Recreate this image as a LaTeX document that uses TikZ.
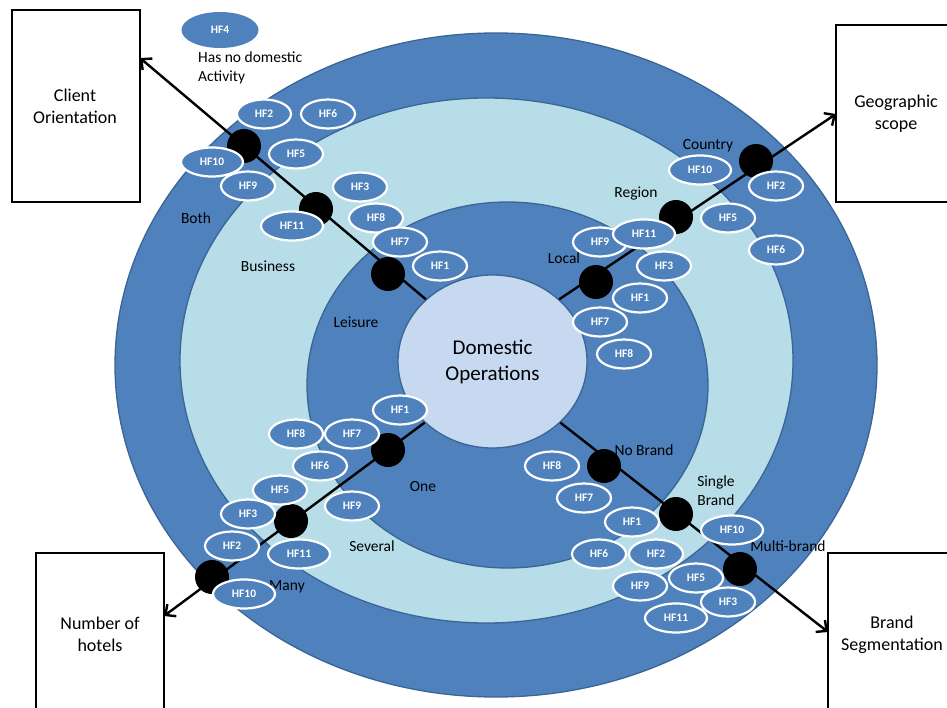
\documentclass[tikz,border=0pt]{standalone}
\usepackage{fontspec}
\setmainfont{Carlito}
\usetikzlibrary{shapes.geometric,arrows.meta}
\definecolor{ringblue}{HTML}{4F81BD}
\definecolor{ringaqua}{HTML}{B7DDE8}
\definecolor{corefill}{HTML}{C6D9F1}
\definecolor{ringedge}{HTML}{3A6595}

\begin{document}
\begin{tikzpicture}[x=1pt,y=-1pt,
  ring/.style={draw=ringedge, line width=1.3pt},
  hf/.style={ellipse, fill=ringblue, draw=white, line width=2.2pt,
    minimum width=54pt, minimum height=29pt, inner sep=0pt, text=white,
    font=\fontsize{11.5}{12}\selectfont\bfseries},
  hfw/.style={hf, minimum width=62pt},
  level/.style={circle, fill=black, minimum size=34pt, inner sep=0pt},
  tag/.style={font=\fontsize{15.5}{19}\selectfont, inner sep=0pt, align=center},
  dimbox/.style={rectangle, draw=black, line width=2.2pt, fill=white, inner sep=0pt},
  boxtext/.style={font=\fontsize{18}{22}\selectfont, align=center, inner sep=0pt},
  axis/.style={draw=black, line width=2.4pt, -{Straight Barb[length=8pt,width=15pt]}}
]
\clip (0,0) rectangle (947,708);
\fill[white] (0,0) rectangle (947,708);

% concentric bands
\filldraw[ring, fill=ringblue] (496,365) ellipse [x radius=381, y radius=332];
\filldraw[ring, fill=ringaqua] (486.5,360.5) ellipse [x radius=306.5, y radius=262.5];
\filldraw[ring, fill=ringblue] (507.5,385) ellipse [x radius=200.5, y radius=183];
\node[ellipse, fill=corefill, draw=ringedge, line width=1.3pt,
  minimum width=189pt, minimum height=173pt, inner sep=0pt,
  font=\fontsize{21}{26}\selectfont, align=center] (core) at (492.5,361.5) {Domestic\\Operations};

% dimension boxes
\node[dimbox, minimum width=128pt, minimum height=192pt] (clientbox) at (76,106) {};
\node[boxtext] (clientlbl) at (75,106) {Client\\Orientation};
\node[dimbox, minimum width=128pt, minimum height=177pt] (geobox) at (900,113.5) {};
\node[boxtext] (geolbl) at (896,114) {Geographic\\scope};
\node[dimbox, minimum width=128pt, minimum height=192pt] (hotelbox) at (100,649) {};
\node[boxtext] (hotellbl) at (100,634.5) {Number of\\hotels};
\node[dimbox, minimum width=128pt, minimum height=192pt] (brandbox) at (892,649) {};
\node[boxtext] (brandlbl) at (892,634.5) {Brand\\Segmentation};

% axes from the core to each box
\coordinate (cliTip) at (140,58);
\coordinate (geoTip) at (836,114);
\coordinate (hotTip) at (164,616);
\coordinate (brTip) at (828,632);
\draw[axis] (core.137) -- (cliTip);
\draw[axis] (core.43) -- (geoTip);
\draw[axis] (core.222) -- (hotTip);
\draw[axis] (core.318) -- (brTip);

% level markers
\node[level] (cBoth) at (244,146) {};
\node[level] (cBus) at (316,209) {};
\node[level] (cLei) at (388,274) {};
\node[level] (gLoc) at (596,282) {};
\node[level] (gReg) at (676,217) {};
\node[level] (gCty) at (756,161) {};
\node[level] (nOne) at (388,450) {};
\node[level] (nSev) at (291,521) {};
\node[level] (nMany) at (212,577) {};
\node[level] (bNo) at (604,466) {};
\node[level] (bSingle) at (676,514) {};
\node[level] (bMulti) at (740,569) {};

% level names
\node[tag] (tBoth) at (196,218) {Both};
\node[tag] (tBus) at (268,266) {Business};
\node[tag] (tLei) at (356,322) {Leisure};
\node[tag] (tCty) at (708,146) {Country};
\node[tag] (tReg) at (636,194) {Region};
\node[tag] (tLoc) at (564,258) {Local};
\node[tag] (tOne) at (423,487) {One};
\node[tag] (tSev) at (372,546) {Several};
\node[tag] (tMany) at (287,587) {Many};
\node[tag] (tNo) at (644,450) {No Brand};
\node[tag] (tSingle) at (716,490.5) {Single\\Brand};
\node[tag] (tMulti) at (788,546) {Multi-brand};

% firm with no domestic activity
\node[ellipse, fill=ringblue, minimum width=77pt, minimum height=36pt, inner sep=0pt,
  text=white, font=\fontsize{11.5}{12}\selectfont\bfseries] (hfFour) at (220,30) {HF4};
\node[tag, align=left, anchor=west] (tNone) at (198,67.5) {Has no domestic\\Activity};

% client orientation
\node[hf] (c2) at (264,114) {HF2};
\node[hf] (c6) at (328,114) {HF6};
\node[hf] (c5) at (296,154) {HF5};
\node[hfw] (c10) at (212,162) {HF10};
\node[hf] (c9) at (248,186) {HF9};
\node[hf] (c3) at (360,187) {HF3};
\node[hf] (c8) at (376,218) {HF8};
\node[hfw] (c11) at (292,226) {HF11};
\node[hf] (c7) at (400,242) {HF7};
\node[hf] (c1) at (440,266) {HF1};

% geographic scope
\node[hfw] (g10) at (700,170) {HF10};
\node[hf] (g2) at (776,186) {HF2};
\node[hf] (g5) at (728,218) {HF5};
\node[hf] (g9) at (600,242) {HF9};
\node[hfw] (g11) at (644,234) {HF11};
\node[hf] (g6) at (776,250) {HF6};
\node[hf] (g3) at (664,266) {HF3};
\node[hf] (g1) at (640,298) {HF1};
\node[hf] (g7) at (600,322) {HF7};
\node[hf] (g8) at (624,354) {HF8};

% number of hotels
\node[hf] (n1) at (400,410) {HF1};
\node[hf] (n8) at (296,434) {HF8};
\node[hf] (n7) at (352,434) {HF7};
\node[hf] (n6) at (320,466) {HF6};
\node[hf] (n5) at (280,490) {HF5};
\node[hf] (n9) at (352,506) {HF9};
\node[hf] (n3) at (248,514) {HF3};
\node[hf] (n2) at (232,546) {HF2};
\node[hfw] (n11) at (299,554) {HF11};
\node[hfw] (n10) at (244,594) {HF10};

% brand segmentation
\node[hf] (b8) at (552,466) {HF8};
\node[hf] (b7) at (584,498) {HF7};
\node[hf] (b1) at (632,522) {HF1};
\node[hfw] (b10) at (732,530) {HF10};
\node[hf] (b6) at (599,554) {HF6};
\node[hf] (b2) at (656,554) {HF2};
\node[hf] (b5) at (696,578) {HF5};
\node[hf] (b9) at (640,586) {HF9};
\node[hf] (b3) at (728,602) {HF3};
\node[hfw] (b11) at (676,618) {HF11};
\end{tikzpicture}
\end{document}
